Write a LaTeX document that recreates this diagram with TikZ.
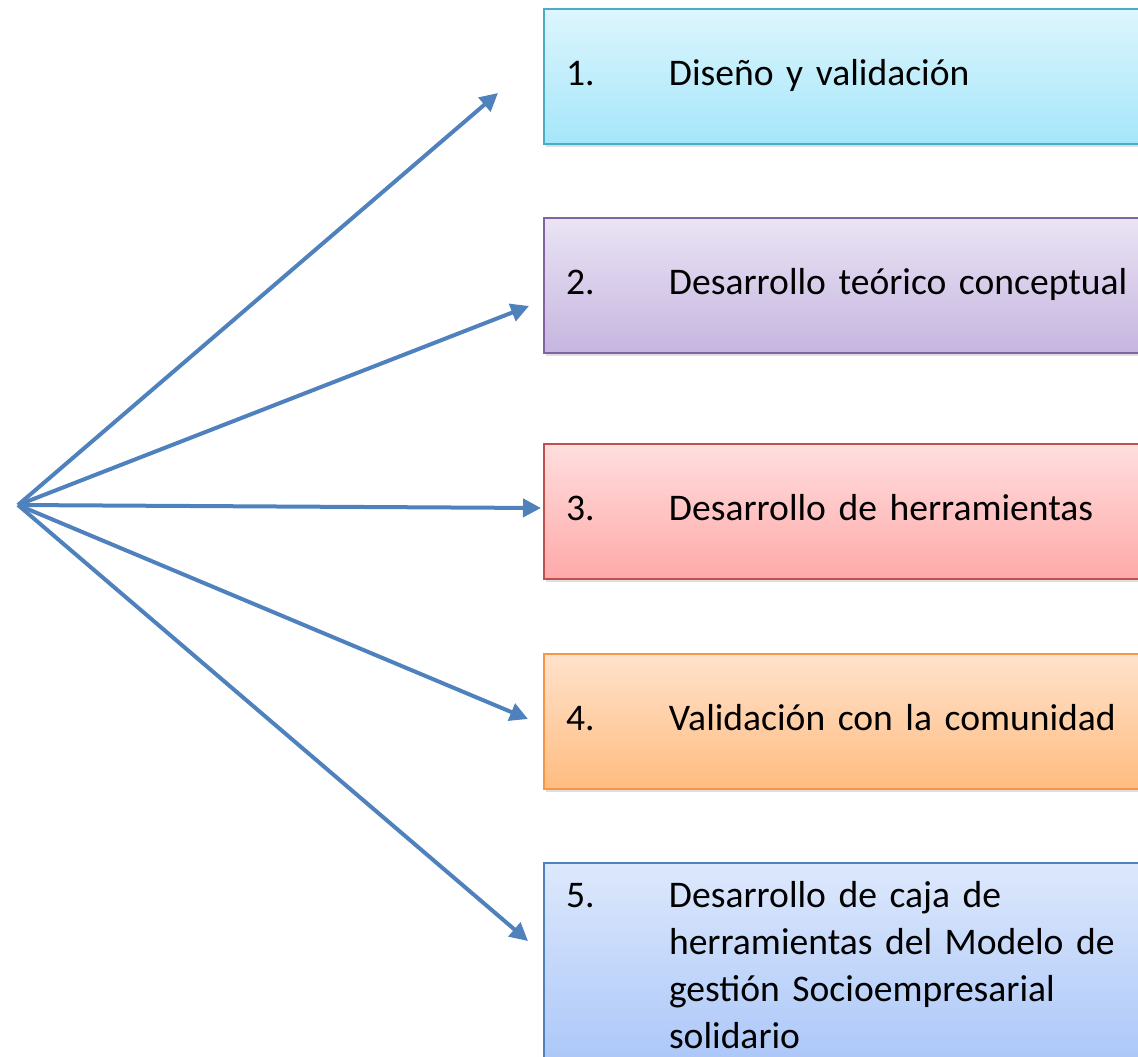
\documentclass[tikz,border=0pt]{standalone}
\usepackage{fontspec}
\setmainfont{Carlito}
\usetikzlibrary{arrows.meta,positioning,shadows}
\definecolor{arrowblue}{HTML}{4F81BD}
\definecolor{cyanline}{HTML}{4BACC6}
\definecolor{cyantop}{HTML}{DDF6FD}
\definecolor{cyanbot}{HTML}{A5E6FA}
\definecolor{violetline}{HTML}{8064A2}
\definecolor{violettop}{HTML}{EAE4F4}
\definecolor{violetbot}{HTML}{C6B5E0}
\definecolor{redline}{HTML}{C0504D}
\definecolor{redtop}{HTML}{FFDEDE}
\definecolor{redbot}{HTML}{FFA9A9}
\definecolor{orangeline}{HTML}{F79646}
\definecolor{orangetop}{HTML}{FFE2CC}
\definecolor{orangebot}{HTML}{FFBC80}
\definecolor{bluetop}{HTML}{DDE8FC}
\definecolor{bluebot}{HTML}{A8C5F8}
\tikzset{
    link/.style={-{Triangle[length=9pt, width=9pt]}, line width=2pt, arrowblue},
    stepbox/.style={draw, line width=1pt, anchor=north west, text width=281.5pt,
        minimum height=67.5pt, inner xsep=11pt, inner ysep=6pt, align=left,
        font=\fontsize{18.8}{23.5}\selectfont, drop shadow={shadow xshift=1pt, shadow yshift=-1.5pt, opacity=0.25}}
}
\newcommand{\steptext}[2]{\begin{tabular}{@{}p{51.5pt}@{}l@{}}#1 & #2\end{tabular}}

\begin{document}
\begin{tikzpicture}[x=0.5pt, y=-0.5pt]
\useasboundingbox (0,0) rectangle (1138,1056);
\node[stepbox, draw=cyanline, top color=cyantop, bottom color=cyanbot] (s1) at (543,8)
    {\steptext{1.}{Diseño y validación}};
\node[stepbox, draw=violetline, top color=violettop, bottom color=violetbot] (s2) at (543,217)
    {\steptext{2.}{Desarrollo teórico conceptual}};
\node[stepbox, draw=redline, top color=redtop, bottom color=redbot] (s3) at (543,443)
    {\steptext{3.}{Desarrollo de herramientas}};
\node[stepbox, draw=orangeline, top color=orangetop, bottom color=orangebot] (s4) at (543,653)
    {\steptext{4.}{Validación con la comunidad}};
\node[stepbox, draw=arrowblue, top color=bluetop, bottom color=bluebot, minimum height=101pt] (s5) at (543,862)
    {\steptext{5.}{Desarrollo de caja de\\ & herramientas del Modelo de\\ & gestión Socioempresarial\\ & solidario}};

\coordinate (hub) at (18,505);
\coordinate (t1) at (498,93);
\coordinate (t2) at (529,306);
\coordinate (t3) at (541,508);
\coordinate (t4) at (528,719);
\coordinate (t5) at (528,941);
\foreach \t in {t1,t2,t3,t4,t5}
    \draw[link] (hub) -- (\t);
\end{tikzpicture}
\end{document}
